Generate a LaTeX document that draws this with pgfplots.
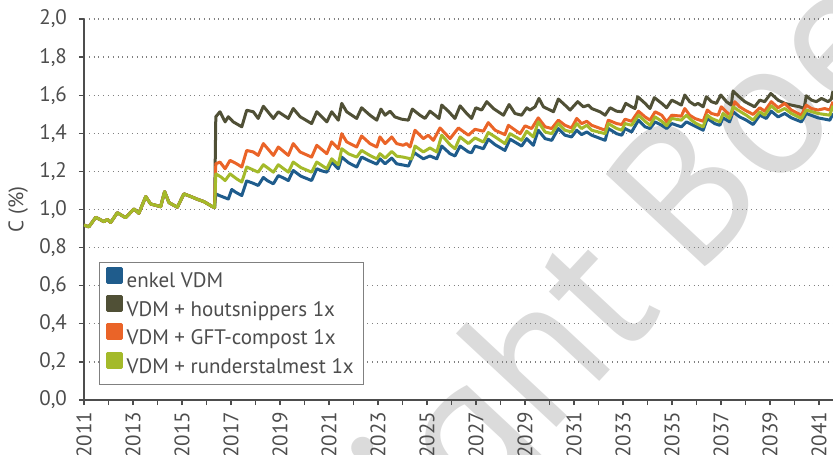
\documentclass[border=0pt]{standalone}
\usepackage{fontspec}
\setmainfont{PT Sans}
\usepackage{pgfplots}
\pgfplotsset{compat=1.18}
\definecolor{cblue}{RGB}{31,92,140}
\definecolor{cdark}{RGB}{80,80,54}
\definecolor{corange}{RGB}{234,100,40}
\definecolor{cgreen}{RGB}{164,186,42}
\definecolor{ctext}{RGB}{77,77,77}
\begin{document}
\begin{tikzpicture}
\node[rotate=47, anchor=base east, text=black!14, font=\fontsize{98}{98}\selectfont, inner sep=0pt] at (305pt,60pt) {Copyright\kern0.22em};
\node[rotate=47, anchor=base west, text=black!14, font=\fontsize{98}{98}\selectfont, inner sep=0pt] at (305pt,60pt) {Boerderij};
\begin{axis}[
  scale only axis, width=374.5pt, height=190.5pt,
  xmin=2011, xmax=2041.57, ymin=0, ymax=2,
  axis lines=left, axis line style={-, draw=ctext, line width=0.7pt},
  xtick={2011,2013,...,2041}, minor xtick={2012,2014,...,2040},
  ytick={0,0.2,0.4,0.6,0.8,1.0,1.2,1.4,1.6,1.8,2.0},
  tick align=outside, major tick length=2.5pt, minor tick length=2.5pt,
  tick style={draw=ctext, line width=0.6pt},
  ymajorgrids, grid style={dotted, draw=gray, line width=0.6pt},
  tick label style={font=\fontsize{10.5}{12}\selectfont, text=ctext},
  /pgf/number format/assume math mode=true,
  x tick label style={rotate=90, anchor=east, /pgf/number format/1000 sep={}},
  y tick label style={xshift=-2.5pt, /pgf/number format/.cd, fixed, fixed zerofill, precision=1, use comma},
  ylabel={C (\%)},
  every axis y label/.style={at={(axis description cs:-0.088,0.5)}, rotate=90, anchor=center, font=\fontsize{10.5}{12}\selectfont, text=ctext},
  legend style={at={(rel axis cs:0,0)}, anchor=south west, xshift=7.5pt, yshift=7.5pt, draw=gray, line width=0.6pt, font=\fontsize{10.5}{12}\selectfont, text=ctext, inner xsep=3pt, inner ysep=2pt, row sep=0pt, nodes={inner sep=2pt}},
  legend cell align=left,
  legend image code/.code={\fill[#1] (0pt,0pt) rectangle (7pt,7pt);},
  every axis plot/.append style={line width=1.5pt, line join=round},
]
\addplot[color=cblue] coordinates {
(2011.00,0.918)(2011.20,0.909)(2011.48,0.959)(2011.82,0.936)(2011.95,0.948)(2012.09,0.932)(2012.36,0.983)(2012.70,0.957)(2013.04,1.003)(2013.24,0.980)(2013.52,1.068)(2013.72,1.029)(2014.13,1.015)(2014.29,1.094)(2014.47,1.036)(2014.81,1.012)(2015.08,1.082)(2015.36,1.068)(2015.62,1.054)(2015.90,1.041)(2016.24,1.015)(2016.33,1.010)
(2016.38,1.082)(2016.55,1.072)(2016.89,1.055)(2017.03,1.105)(2017.20,1.090)(2017.44,1.073)(2017.64,1.150)(2017.90,1.138)(2018.11,1.126)(2018.32,1.168)(2018.50,1.150)(2018.73,1.135)(2018.93,1.178)(2019.15,1.165)(2019.34,1.152)(2019.54,1.205)(2019.85,1.175)(2020.29,1.152)(2020.50,1.214)(2020.70,1.203)(2020.91,1.196)(2021.11,1.249)(2021.38,1.214)(2021.52,1.275)(2021.80,1.245)(2022.13,1.223)(2022.33,1.275)(2022.65,1.255)(2022.95,1.238)
(2023.08,1.266)(2023.29,1.240)(2023.56,1.270)(2023.76,1.240)(2024.24,1.228)(2024.48,1.298)(2024.85,1.266)(2025.12,1.281)(2025.40,1.266)(2025.60,1.333)(2025.94,1.293)(2026.14,1.281)(2026.35,1.333)(2026.69,1.302)(2026.82,1.298)(2026.96,1.333)(2027.30,1.319)(2027.50,1.369)(2027.78,1.340)(2028.18,1.310)(2028.39,1.369)(2028.86,1.333)(2029.07,1.372)
(2029.34,1.337)(2029.54,1.416)(2029.82,1.372)(2030.09,1.363)(2030.36,1.425)(2030.63,1.390)(2030.90,1.381)(2031.11,1.416)(2031.31,1.393)(2031.52,1.407)(2031.72,1.390)(2032.27,1.363)(2032.40,1.425)(2032.74,1.398)(2032.95,1.390)(2033.08,1.425)(2033.35,1.407)(2033.63,1.469)(2033.90,1.434)(2034.10,1.425)(2034.31,1.460)(2034.58,1.442)(2034.78,1.425)(2034.99,1.451)
(2035.38,1.434)(2035.59,1.460)(2035.99,1.434)(2036.27,1.416)(2036.44,1.478)(2036.74,1.451)(2036.95,1.442)(2037.08,1.481)(2037.35,1.460)(2037.49,1.513)(2037.76,1.486)(2038.03,1.469)(2038.31,1.446)(2038.58,1.495)(2038.85,1.478)(2039.05,1.516)(2039.33,1.486)(2039.60,1.504)(2039.87,1.481)(2040.28,1.460)(2040.48,1.504)(2040.96,1.481)(2041.44,1.469)(2041.57,1.504)
};
\addlegendentry{enkel VDM}
\addplot[color=cdark] coordinates {
(2011.00,0.918)(2011.20,0.909)(2011.48,0.959)(2011.82,0.936)(2011.95,0.948)(2012.09,0.932)(2012.36,0.983)(2012.70,0.957)(2013.04,1.003)(2013.24,0.980)(2013.52,1.068)(2013.72,1.029)(2014.13,1.015)(2014.29,1.094)(2014.47,1.036)(2014.81,1.012)(2015.08,1.082)(2015.36,1.068)(2015.62,1.054)(2015.90,1.041)(2016.24,1.015)(2016.33,1.010)
(2016.38,1.487)(2016.55,1.513)(2016.76,1.460)(2016.89,1.487)(2017.09,1.460)(2017.44,1.434)(2017.64,1.521)(2017.91,1.513)(2018.11,1.478)(2018.32,1.542)(2018.73,1.478)(2018.93,1.513)(2019.34,1.478)(2019.54,1.530)(2019.82,1.487)(2020.29,1.451)(2020.50,1.513)(2020.91,1.460)(2021.11,1.513)(2021.38,1.469)(2021.52,1.557)(2021.72,1.513)(2022.13,1.478)(2022.33,1.534)(2022.67,1.495)(2022.95,1.469)
(2023.12,1.527)(2023.29,1.495)(2023.49,1.516)(2023.69,1.486)(2023.97,1.474)(2024.24,1.469)(2024.40,1.527)(2024.71,1.495)(2024.92,1.478)(2025.12,1.516)(2025.33,1.495)(2025.49,1.478)(2025.60,1.548)(2025.87,1.516)(2026.14,1.478)(2026.35,1.544)(2026.62,1.504)(2026.82,1.478)(2026.99,1.534)(2027.23,1.522)(2027.44,1.566)(2027.71,1.530)(2028.12,1.495)(2028.35,1.551)(2028.59,1.504)(2028.86,1.495)(2029.07,1.534)
(2029.20,1.522)(2029.41,1.539)(2029.57,1.583)(2029.75,1.539)(2030.02,1.522)(2030.16,1.513)(2030.36,1.580)(2030.63,1.548)(2030.84,1.522)(2031.15,1.566)(2031.38,1.539)(2031.59,1.548)(2031.72,1.530)(2032.06,1.513)(2032.27,1.495)(2032.47,1.534)(2032.74,1.516)(2032.95,1.513)(2033.11,1.557)(2033.35,1.539)(2033.49,1.530)(2033.60,1.592)(2033.90,1.557)(2034.10,1.530)(2034.28,1.587)(2034.58,1.557)(2034.78,1.534)(2034.99,1.574)
(2035.25,1.557)(2035.38,1.548)(2035.52,1.601)(2035.72,1.566)(2035.93,1.548)(2036.06,1.557)(2036.27,1.539)(2036.40,1.592)(2036.61,1.566)(2036.81,1.557)(2036.99,1.601)(2037.22,1.566)(2037.42,1.548)(2037.49,1.622)(2037.69,1.597)(2037.97,1.566)(2038.24,1.548)(2038.37,1.539)(2038.58,1.574)(2038.78,1.566)(2039.03,1.609)(2039.33,1.574)(2039.60,1.557)(2039.87,1.548)(2040.21,1.539)(2040.39,1.530)(2040.48,1.597)(2040.69,1.574)(2040.89,1.566)(2041.10,1.583)(2041.37,1.566)(2041.50,1.580)(2041.57,1.622)
};
\addlegendentry{VDM + houtsnippers 1x}
\addplot[color=corange] coordinates {
(2011.00,0.918)(2011.20,0.909)(2011.48,0.959)(2011.82,0.936)(2011.95,0.948)(2012.09,0.932)(2012.36,0.983)(2012.70,0.957)(2013.04,1.003)(2013.24,0.980)(2013.52,1.068)(2013.72,1.029)(2014.13,1.015)(2014.29,1.094)(2014.47,1.036)(2014.81,1.012)(2015.08,1.082)(2015.36,1.068)(2015.62,1.054)(2015.90,1.041)(2016.24,1.015)(2016.33,1.010)
(2016.38,1.240)(2016.55,1.249)(2016.76,1.214)(2016.96,1.258)(2017.23,1.240)(2017.44,1.223)(2017.64,1.310)(2017.91,1.302)(2018.11,1.284)(2018.32,1.346)(2018.73,1.284)(2018.93,1.328)(2019.34,1.284)(2019.54,1.346)(2019.82,1.302)(2020.29,1.275)(2020.50,1.337)(2020.91,1.293)(2021.11,1.355)(2021.38,1.319)(2021.52,1.398)(2021.72,1.355)(2022.13,1.328)(2022.33,1.386)(2022.67,1.346)(2022.95,1.328)
(2023.08,1.381)(2023.29,1.346)(2023.56,1.381)(2023.76,1.346)(2024.03,1.337)(2024.17,1.346)(2024.31,1.328)(2024.51,1.416)(2024.85,1.372)(2025.05,1.390)(2025.26,1.363)(2025.53,1.428)(2025.94,1.372)(2026.28,1.428)(2026.69,1.390)(2026.96,1.421)(2027.30,1.411)(2027.50,1.456)(2027.78,1.416)(2028.18,1.393)(2028.32,1.442)(2028.80,1.398)(2029.00,1.439)
(2029.27,1.425)(2029.54,1.481)(2029.82,1.434)(2030.09,1.425)(2030.36,1.469)(2030.63,1.442)(2030.90,1.428)(2031.11,1.478)(2031.31,1.451)(2031.52,1.463)(2031.72,1.442)(2032.27,1.416)(2032.40,1.469)(2032.74,1.451)(2032.95,1.446)(2033.08,1.474)(2033.35,1.463)(2033.63,1.516)(2033.90,1.486)(2034.10,1.469)(2034.31,1.513)(2034.58,1.495)(2034.78,1.460)(2034.99,1.495)
(2035.38,1.490)(2035.52,1.530)(2035.72,1.495)(2035.93,1.478)(2036.27,1.463)(2036.44,1.522)(2036.61,1.504)(2036.88,1.495)(2037.01,1.539)(2037.29,1.504)(2037.42,1.495)(2037.56,1.566)(2037.76,1.539)(2037.97,1.522)(2038.31,1.499)(2038.58,1.534)(2038.78,1.516)(2039.05,1.566)(2039.33,1.534)(2039.60,1.557)(2039.87,1.522)(2040.28,1.495)(2040.48,1.548)(2040.69,1.530)(2040.96,1.522)(2041.23,1.530)(2041.44,1.522)(2041.57,1.566)
};
\addlegendentry{VDM + GFT-compost 1x}
\addplot[color=cgreen] coordinates {
(2011.00,0.918)(2011.20,0.909)(2011.48,0.959)(2011.82,0.936)(2011.95,0.948)(2012.09,0.932)(2012.36,0.983)(2012.70,0.957)(2013.04,1.003)(2013.24,0.980)(2013.52,1.068)(2013.72,1.029)(2014.13,1.015)(2014.29,1.094)(2014.47,1.036)(2014.81,1.012)(2015.08,1.082)(2015.36,1.068)(2015.62,1.054)(2015.90,1.041)(2016.24,1.015)(2016.33,1.010)
(2016.38,1.187)(2016.60,1.170)(2016.76,1.152)(2016.96,1.187)(2017.23,1.161)(2017.44,1.144)(2017.64,1.223)(2018.11,1.196)(2018.32,1.235)(2018.73,1.196)(2018.93,1.235)(2019.34,1.196)(2019.54,1.249)(2019.85,1.220)(2020.29,1.196)(2020.50,1.249)(2020.91,1.214)(2021.11,1.266)(2021.38,1.235)(2021.52,1.319)(2021.80,1.292)(2022.13,1.275)(2022.33,1.310)(2022.65,1.285)(2022.95,1.266)
(2023.08,1.293)(2023.29,1.270)(2023.56,1.305)(2023.76,1.280)(2024.03,1.275)(2024.37,1.265)(2024.51,1.333)(2024.85,1.302)(2025.12,1.323)(2025.40,1.302)(2025.60,1.390)(2025.94,1.340)(2026.14,1.319)(2026.35,1.381)(2026.69,1.346)(2026.96,1.376)(2027.30,1.354)(2027.50,1.404)(2027.78,1.381)(2028.18,1.346)(2028.39,1.398)(2028.86,1.363)(2029.07,1.411)
(2029.34,1.381)(2029.54,1.460)(2029.82,1.407)(2030.09,1.398)(2030.36,1.451)(2030.63,1.416)(2030.90,1.407)(2031.11,1.451)(2031.31,1.425)(2031.52,1.442)(2031.72,1.416)(2032.27,1.398)(2032.40,1.451)(2032.74,1.425)(2032.95,1.416)(2033.08,1.451)(2033.35,1.442)(2033.63,1.495)(2033.90,1.463)(2034.10,1.442)(2034.31,1.486)(2034.58,1.463)(2034.78,1.440)(2034.99,1.478)
(2035.38,1.469)(2035.59,1.495)(2035.79,1.469)(2035.99,1.451)(2036.27,1.434)(2036.44,1.495)(2036.61,1.478)(2036.95,1.460)(2037.08,1.504)(2037.35,1.478)(2037.49,1.539)(2037.76,1.516)(2038.03,1.495)(2038.31,1.469)(2038.58,1.513)(2038.78,1.495)(2039.05,1.544)(2039.33,1.513)(2039.60,1.530)(2039.87,1.504)(2040.28,1.478)(2040.48,1.522)(2040.96,1.504)(2041.44,1.495)(2041.57,1.545)
};
\addlegendentry{VDM + runderstalmest 1x}
\end{axis}
\pgfresetboundingbox
\useasboundingbox (-42pt,-27pt) rectangle (374.5pt,200pt);
\end{tikzpicture}
\end{document}
